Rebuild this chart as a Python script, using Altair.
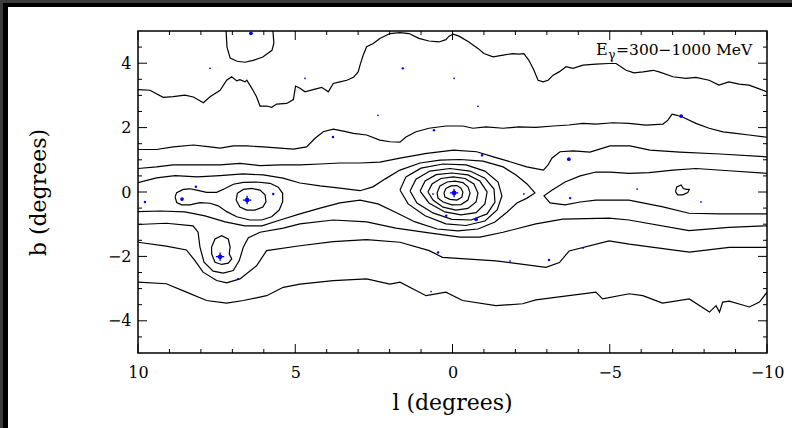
import altair as alt
import pandas as pd

# ---------------- contour lines, (l, b) in degrees ----------------
A = [(7.20, 5.0), (7.17, 4.50), (7.07, 4.16), (6.85, 4.06), (6.60, 4.03), (6.34, 4.09),
     (6.03, 4.19), (5.74, 4.40), (5.68, 4.62), (5.71, 5.0)]

B = [(10.0, 3.18), (9.62, 3.16), (9.20, 2.94), (8.88, 2.96), (8.51, 3.01), (8.24, 2.95),
     (7.92, 2.77), (7.71, 2.96), (7.39, 3.16), (7.18, 3.47), (7.02, 3.58), (6.86, 3.45),
     (6.76, 3.49), (6.60, 3.42), (6.54, 3.47), (6.38, 3.22), (6.23, 2.96), (6.12, 2.67),
     (5.91, 2.67), (5.75, 2.63), (5.59, 2.73), (5.27, 2.75), (5.06, 2.87), (4.99, 3.29),
     (4.85, 3.22), (4.69, 3.11), (4.43, 3.18), (4.16, 3.25), (3.95, 3.11), (3.79, 3.37),
     (3.58, 3.42), (3.36, 3.47), (3.15, 3.56), (3.00, 3.73), (2.94, 3.94), (2.84, 4.25),
     (2.73, 4.51), (2.52, 4.61), (2.31, 4.77), (1.99, 4.92), (1.67, 4.95), (1.38, 4.92),
     (1.07, 4.77), (0.75, 4.69), (0.43, 4.66), (0.21, 4.73), (0.11, 4.84), (-0.02, 4.90),
     (-0.21, 4.84), (-0.52, 4.66), (-0.81, 4.46), (-1.00, 4.30), (-1.29, 4.20), (-1.61, 4.25),
     (-1.92, 4.30), (-2.11, 4.28), (-2.27, 4.30), (-2.43, 4.09), (-2.59, 3.78), (-2.72, 3.47),
     (-2.88, 3.42), (-3.04, 3.47), (-3.20, 3.63), (-3.39, 3.73), (-3.61, 3.89), (-3.83, 3.84),
     (-4.15, 3.94), (-4.56, 3.97), (-4.97, 3.99), (-5.20, 3.99), (-5.52, 3.78), (-5.77, 3.70),
     (-6.06, 3.73), (-6.38, 3.78), (-6.57, 3.73), (-7.01, 3.58), (-7.42, 3.53), (-7.74, 3.56),
     (-8.16, 3.47), (-8.47, 3.32), (-8.79, 3.42), (-9.11, 3.35), (-9.43, 3.32), (-9.71, 3.22),
     (-10.0, 3.11)]

C = [(10.0, 1.32), (9.41, 1.32), (8.88, 1.40), (8.24, 1.46), (7.71, 1.40), (7.39, 1.36),
     (6.97, 1.43), (6.54, 1.43), (6.02, 1.40), (5.48, 1.36), (5.06, 1.33), (4.64, 1.40),
     (4.37, 1.67), (4.11, 1.87), (3.79, 1.95), (3.47, 1.89), (3.15, 1.82), (2.73, 1.77),
     (2.31, 1.61), (1.99, 1.56), (1.67, 1.55), (1.48, 1.71), (1.16, 1.87), (0.75, 1.98),
     (0.21, 2.05), (-0.33, 2.05), (-0.65, 1.98), (-1.07, 2.02), (-1.61, 1.98), (-2.11, 2.02),
     (-2.65, 2.01), (-3.20, 2.05), (-3.70, 2.08), (-4.15, 2.13), (-4.56, 2.11), (-5.10, 2.15),
     (-5.61, 2.13), (-6.15, 2.08), (-6.69, 2.11), (-6.85, 2.23), (-6.98, 2.42), (-7.11, 2.39),
     (-7.33, 2.32), (-7.74, 2.13), (-8.16, 1.98), (-8.60, 1.87), (-9.01, 1.82), (-9.43, 1.77),
     (-10.0, 1.70)]

D = [(10.0, 0.73), (9.41, 0.78), (8.88, 0.84), (8.03, 0.84), (7.39, 0.84), (6.76, 0.89),
     (6.12, 0.82), (5.48, 0.84), (4.85, 0.84), (4.21, 0.87), (3.58, 0.90), (2.94, 0.90),
     (2.31, 0.93), (1.67, 1.05), (0.82, 1.20), (-0.03, 1.30), (-0.77, 1.25), (-1.30, 1.09),
     (-1.83, 0.94), (-2.36, 0.78), (-2.89, 0.68), (-3.04, 0.84), (-3.16, 1.05), (-3.42, 1.25),
     (-3.84, 1.28), (-4.37, 1.24), (-5.01, 1.43), (-5.64, 1.43), (-6.28, 1.30), (-7.23, 1.24),
     (-8.51, 1.18), (-10.0, 1.09)]

EF = [(10.0, 0.29), (9.41, 0.44), (8.82, 0.51), (8.12, 0.47), (7.39, 0.51), (6.66, 0.56),
      (6.02, 0.53), (5.39, 0.43), (4.85, 0.28), (4.21, 0.19), (3.58, 0.12), (2.94, 0.04),
      (2.53, 0.16), (2.15, 0.40), (1.67, 0.68), (1.03, 0.90), (0.40, 0.99), (-0.24, 1.01),
      (-0.97, 0.96), (-1.61, 0.78), (-2.02, 0.53), (-2.37, 0.25), (-2.62, -0.03), (-2.37, -0.19),
      (-2.05, -0.34), (-1.74, -0.62), (-1.35, -0.93), (-0.81, -1.15), (-0.17, -1.21), (0.49, -1.15),
      (1.19, -0.93), (1.83, -0.62), (2.37, -0.37), (2.94, -0.25), (3.58, -0.34), (4.21, -0.50),
      (4.85, -0.68), (5.48, -0.87), (6.06, -1.05), (6.60, -1.05), (7.23, -0.93), (7.87, -0.74),
      (8.51, -0.62), (9.30, -0.59), (10.0, -0.61)]

RU = [(-10.0, 0.58), (-8.79, 0.66), (-7.74, 0.73), (-7.01, 0.68), (-6.25, 0.60), (-5.61, 0.58),
      (-5.01, 0.62), (-4.56, 0.62), (-4.06, 0.50), (-3.58, 0.31), (-3.17, 0.06), (-2.91, -0.12),
      (-3.10, -0.34), (-3.58, -0.40), (-4.06, -0.31), (-4.56, -0.25), (-5.61, -0.25), (-6.69, -0.46),
      (-7.52, -0.66), (-8.51, -0.68), (-10.0, -0.68)]

G = [(10.0, -1.01), (9.10, -0.97), (8.25, -1.05), (8.09, -1.25), (8.03, -1.71), (7.90, -2.18),
     (7.61, -2.46), (7.29, -2.52), (6.97, -2.44), (6.78, -2.13), (6.65, -1.71), (6.49, -1.42),
     (6.12, -1.25), (5.38, -1.12), (4.85, -0.99), (3.79, -0.87), (2.73, -0.93), (1.80, -1.12),
     (0.75, -1.27), (-0.24, -1.40), (-0.87, -1.40), (-1.61, -1.25), (-2.65, -0.99), (-3.51, -0.84),
     (-4.98, -0.81), (-5.61, -0.87), (-7.52, -1.20), (-8.79, -1.10), (-10.0, -1.05)]

H = [(10.0, -1.56), (9.10, -1.68), (8.46, -1.80), (8.19, -2.13), (7.93, -2.49), (7.50, -2.75),
     (7.18, -2.82), (6.76, -2.70), (6.23, -2.29), (5.91, -1.82), (4.85, -1.67), (3.79, -1.54),
     (2.73, -1.48), (1.67, -1.56), (0.74, -1.82), (0.32, -2.03), (-1.38, -2.14), (-2.97, -2.34),
     (-3.40, -2.19), (-3.71, -1.83), (-4.98, -1.52), (-5.62, -1.62), (-7.53, -1.87), (-8.80, -1.72),
     (-10.0, -1.72)]

I = [(10.0, -2.80), (9.10, -2.85), (8.46, -3.11), (7.82, -3.37), (7.18, -3.45), (6.65, -3.37),
     (5.91, -3.22), (5.38, -2.96), (4.85, -2.86), (3.79, -2.75), (2.73, -2.70), (1.99, -2.86),
     (1.67, -2.80), (0.84, -3.22), (0.21, -3.11), (-0.32, -3.37), (-1.38, -3.53), (-2.23, -3.47),
     (-2.65, -3.35), (-4.56, -3.11), (-4.77, -3.32), (-5.62, -3.16), (-6.05, -3.22), (-6.68, -3.45),
     (-7.53, -3.32), (-8.17, -3.73), (-8.38, -3.53), (-8.49, -3.73), (-8.59, -3.42), (-8.80, -3.39),
     (-9.44, -3.57), (-9.76, -3.42), (-10.0, -3.11)]

LOBE = [(8.82, -0.15), (8.77, -0.02), (8.56, 0.08), (8.35, 0.10), (8.13, 0.06), (7.82, -0.01),
        (7.50, -0.01), (7.23, 0.11), (6.97, 0.24), (6.65, 0.30), (6.23, 0.31), (5.80, 0.27),
        (5.54, 0.15), (5.40, -0.04), (5.40, -0.30), (5.51, -0.56), (5.75, -0.77), (6.07, -0.87),
        (6.44, -0.87), (6.86, -0.77), (7.18, -0.61), (7.45, -0.43), (7.71, -0.35), (8.03, -0.33),
        (8.35, -0.40), (8.61, -0.40), (8.77, -0.33), (8.82, -0.15)]

LOBE_IN = [(6.88, -0.25), (6.84, -0.04), (6.65, 0.08), (6.38, 0.11), (6.12, 0.06), (5.96, -0.09),
           (5.93, -0.30), (6.03, -0.47), (6.28, -0.56), (6.54, -0.56), (6.76, -0.47), (6.88, -0.25)]

LOOP_S = [(7.66, -1.71), (7.55, -1.46), (7.34, -1.36), (7.13, -1.46), (7.07, -1.71), (7.10, -1.92),
          (7.02, -2.08), (7.13, -2.21), (7.34, -2.25), (7.55, -2.18), (7.66, -1.92), (7.66, -1.71)]

BLOB_R = [(-7.09, 0.01), (-7.13, 0.16), (-7.27, 0.22), (-7.34, 0.11), (-7.43, 0.08), (-7.53, 0.08),
          (-7.48, -0.02), (-7.32, -0.09), (-7.16, -0.09), (-7.09, 0.01)]

R1 = [(0.27, -0.03), (0.21, 0.11), (0.05, 0.19), (-0.14, 0.20), (-0.27, 0.12), (-0.33, 0.0),
      (-0.30, -0.16), (-0.14, -0.25), (0.08, -0.23), (0.24, -0.16), (0.27, -0.03)]
R2 = [(0.49, -0.03), (0.40, 0.19), (0.17, 0.31), (-0.08, 0.34), (-0.33, 0.29), (-0.49, 0.16),
      (-0.56, -0.03), (-0.49, -0.25), (-0.27, -0.39), (0.02, -0.40), (0.30, -0.31), (0.46, -0.19),
      (0.49, -0.03)]
R3 = [(0.78, 0.0), (0.65, 0.25), (0.37, 0.42), (-0.02, 0.47), (-0.40, 0.42), (-0.68, 0.25),
      (-0.81, -0.03), (-0.75, -0.31), (-0.49, -0.51), (-0.11, -0.56), (0.30, -0.47), (0.62, -0.25),
      (0.78, 0.0)]
R4 = [(1.03, 0.03), (0.87, 0.34), (0.52, 0.54), (0.02, 0.59), (-0.49, 0.53), (-0.87, 0.34),
      (-1.10, 0.0), (-1.03, -0.37), (-0.75, -0.64), (-0.27, -0.71), (0.24, -0.62), (0.75, -0.34),
      (1.03, 0.03)]
R5 = [(1.35, 0.03), (1.16, 0.40), (0.72, 0.65), (0.08, 0.73), (-0.56, 0.65), (-1.03, 0.43),
      (-1.32, 0.09), (-1.35, -0.31), (-1.10, -0.68), (-0.59, -0.87), (0.02, -0.85), (0.62, -0.65),
      (1.13, -0.34), (1.35, 0.03)]
R6 = [(1.67, 0.06), (1.48, 0.47), (1.00, 0.74), (0.30, 0.87), (-0.43, 0.84), (-1.03, 0.65),
      (-1.45, 0.31), (-1.57, -0.12), (-1.42, -0.56), (-1.03, -0.90), (-0.43, -1.04), (0.21, -0.99),
      (0.87, -0.74), (1.41, -0.37), (1.67, 0.06)]

# ---------------- point sources (blue), grouped by apparent marker size ----------------
SRC_BIG = [(-0.05, -0.03), (6.53, -0.25), (7.39, -2.01)]
SRC_MED = [(6.41, 4.93), (8.60, -0.22), (-3.70, 1.02), (-7.27, 2.36), (-0.75, -0.85)]
SRC_SMALL = [(3.80, 1.71), (1.58, 3.84), (0.59, 1.92), (-0.94, 1.14), (-3.74, -0.19), (9.78, -0.31),
             (8.16, 0.16), (5.70, -0.06), (0.20, -0.74), (0.46, -1.88), (-3.07, -2.11)]
SRC_TINY = [(7.71, 3.84), (4.69, 3.53), (2.37, 2.38), (-0.05, 3.53), (-0.81, 2.66), (-5.87, 0.09),
            (-7.90, -0.31), (-2.27, -0.06), (0.62, -0.06), (-4.15, -1.74), (6.82, -2.69),
            (0.68, -3.09), (-1.83, -2.14)]

# ---------------- axis ticks ----------------
X_MAJOR = [10, 5, 0, -5, -10]
X_MINOR = [9, 8, 7, 6, 4, 3, 2, 1, -1, -2, -3, -4, -6, -7, -8, -9]
Y_MAJOR = [4, 2, 0, -2, -4]
Y_MINOR = [4.5, 3.5, 3, 2.5, 1.5, 1, 0.5, -0.5, -1, -1.5, -2.5, -3, -3.5, -4.5]

W, H_ = 629, 322
FONT = "DejaVu Serif"

contours = {"A": A, "B": B, "C": C, "D": D, "EF": EF, "RU": RU, "G": G, "H": H, "I": I,
            "LOBE": LOBE, "LOBE_IN": LOBE_IN, "LOOP_S": LOOP_S, "BLOB_R": BLOB_R,
            "R1": R1, "R2": R2, "R3": R3, "R4": R4, "R5": R5, "R6": R6}
rows = []
for name, pts in contours.items():
    for i, (l, b) in enumerate(pts):
        rows.append({"cid": name, "i": i, "l": l, "b": b})
cdf = pd.DataFrame(rows)


def pdf(pts):
    return pd.DataFrame({"l": [p[0] for p in pts], "b": [p[1] for p in pts]})


xs = alt.Scale(domain=[-10, 10], reverse=True, nice=False, zero=False)
ys = alt.Scale(domain=[-5, 5], nice=False, zero=False)
XAX = alt.Axis(values=X_MAJOR, ticks=False, domain=False, grid=False, labelFont=FONT,
               labelFontSize=16, labelColor="black", labelPadding=11, labelFlush=False,
               title="l (degrees)", titleFont=FONT, titleFontSize=22, titleFontWeight="normal",
               titleColor="black", titleX=314, titleY=56, titleBaseline="alphabetic",
               titleAnchor="middle")
YAX = alt.Axis(values=Y_MAJOR, ticks=False, domain=False, grid=False, labelFont=FONT,
               labelFontSize=16, labelColor="black", labelPadding=7, labelFlush=False,
               title="b (degrees)", titleFont=FONT, titleFontSize=22, titleFontWeight="normal",
               titleColor="black", titleX=-100, titleY=161, titleAngle=-90,
               titleAlign="center", titleBaseline="middle")


def X():
    return alt.X("l:Q", scale=xs, axis=XAX, title="l (degrees)")


def Y():
    return alt.Y("b:Q", scale=ys, axis=YAX, title="b (degrees)")


lines = alt.Chart(cdf).mark_line(color="black", strokeWidth=1.2, clip=True).encode(
    x=X(), y=Y(), detail="cid:N", order="i:Q")


def src(pts, size):
    return alt.Chart(pdf(pts)).mark_point(filled=True, color="#0000ff", size=size, shape="circle",
                                          opacity=1, clip=True).encode(x=X(), y=Y())


PLUS = "M-1,0L1,0M0,-1L0,1"
plus = alt.Chart(pdf(SRC_BIG)).mark_point(filled=False, color="#0000ff", size=70, shape=PLUS,
                                          strokeWidth=1.3, opacity=1, clip=True).encode(x=X(), y=Y())

srcs = [src(SRC_TINY, 3), src(SRC_SMALL, 6), src(SRC_MED, 14), src(SRC_BIG, 22), plus]


def xticks(vals, y0, y1):
    return alt.Chart(pd.DataFrame({"l": vals})).mark_rule(color="black", strokeWidth=1).encode(
        x=X(), y=alt.value(y0), y2=alt.value(y1))


def yticks(vals, x0, x1):
    return alt.Chart(pd.DataFrame({"b": vals})).mark_rule(color="black", strokeWidth=1).encode(
        y=Y(), x=alt.value(x0), x2=alt.value(x1))


ticks = [xticks(X_MAJOR, H_, H_ - 9), xticks(X_MINOR, H_, H_ - 4),
         xticks(X_MAJOR, 0, 9), xticks(X_MINOR, 0, 4),
         yticks(Y_MAJOR, 0, 9), yticks(Y_MINOR, 0, 4),
         yticks(Y_MAJOR, W, W - 9), yticks(Y_MINOR, W, W - 4)]

# energy-band label
LBL_E = pd.DataFrame({"l": [-4.56], "b": [4.25], "t": ["E"]})
LBL_G = pd.DataFrame({"l": [-4.95], "b": [4.13], "t": ["γ"]})
LBL_R = pd.DataFrame({"l": [-5.20], "b": [4.25], "t": ["=300−1000 MeV"]})


def label(df, size):
    return alt.Chart(df).mark_text(font=FONT, fontSize=size, color="black", align="left",
                                   baseline="alphabetic").encode(x=X(), y=Y(), text="t:N")


labels = [label(LBL_E, 16), label(LBL_G, 12), label(LBL_R, 15.5)]

# dark picture frame on the top and left edges of the image
one = pd.DataFrame({"a": [0]})


def band(x0, x1, y0, y1, col):
    return alt.Chart(one).mark_rect(color=col, clip=False).encode(
        x=alt.value(x0), x2=alt.value(x1), y=alt.value(y0), y2=alt.value(y1))


frame = [band(-138, W + 25, -31, -24, "#000000"), band(-138, -130, -31, H_ + 75, "#000000"),
         band(-138, W + 25, -31, -28, "#3c3c3c"), band(-138, -135, -31, H_ + 75, "#3c3c3c")]

chart = alt.layer(lines, *srcs, *ticks, *labels, *frame).properties(
    width=W, height=H_,
    autosize=alt.AutoSizeParams(type="none"),
    padding={"left": 138, "top": 31, "right": 25, "bottom": 75},
    background="white",
).configure_view(stroke="black", strokeWidth=1.5)

chart.save("out.html", embed_options={"renderer": "svg", "actions": False})
